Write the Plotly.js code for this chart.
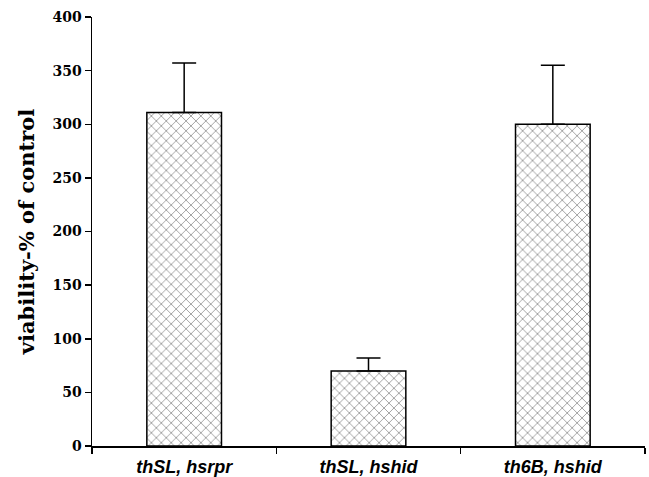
<!DOCTYPE html>
<html>
<head>
<meta charset="utf-8">
<script src="https://cdn.plot.ly/plotly-3.0.1.min.js"></script>
<style>html,body{margin:0;padding:0;background:#fff;}#chart{width:649px;height:477px;}</style>
</head>
<body>
<div id="chart"></div>
<script>
const categories = ["thSL, hsrpr", "thSL, hshid", "th6B, hshid"];
const viability = [311, 70, 300];
const errorUp = [46, 12, 55];
const yTicks = [0, 50, 100, 150, 200, 250, 300, 350, 400];

const trace = {
  type: "bar",
  x: categories,
  y: viability,
  width: 0.405,
  marker: {
    color: "#ffffff",
    line: {color: "#000000", width: 1.5},
    pattern: {shape: "x", size: 7, solidity: 0.2, fgcolor: "#858585", bgcolor: "#ffffff"}
  },
  error_y: {
    type: "data",
    symmetric: false,
    array: errorUp,
    arrayminus: [0, 0, 0],
    color: "#000000",
    thickness: 1.5,
    width: 12
  },
  hoverinfo: "none"
};

const layout = {
  width: 649,
  height: 477,
  margin: {l: 92, r: 4, t: 17, b: 31},
  paper_bgcolor: "#ffffff",
  plot_bgcolor: "#ffffff",
  showlegend: false,
  xaxis: {
    type: "category",
    showline: true,
    linecolor: "#000000",
    linewidth: 1.5,
    ticks: "outside",
    tickson: "boundaries",
    ticklen: 6,
    tickwidth: 1.5,
    tickcolor: "#000000",
    showgrid: false,
    zeroline: false,
    ticklabelstandoff: 4,
    tickfont: {family: "Liberation Sans, Arial, sans-serif", size: 18, color: "#000000", weight: "bold", style: "italic"}
  },
  yaxis: {
    range: [0, 400],
    tickvals: yTicks,
    ticktext: yTicks.map(String),
    showline: true,
    linecolor: "#000000",
    linewidth: 1.5,
    ticks: "outside",
    ticklen: 6,
    tickwidth: 1.5,
    tickcolor: "#000000",
    showgrid: false,
    zeroline: false,
    tickfont: {family: "DejaVu Serif, serif", size: 14, color: "#000000", weight: "bold"},
    title: {text: "viability-% of control", font: {family: "DejaVu Serif, serif", size: 21, color: "#000000", weight: "bold"}, standoff: 12}
  }
};

Plotly.newPlot("chart", [trace], layout, {displayModeBar: false, staticPlot: true});
</script>
</body>
</html>
